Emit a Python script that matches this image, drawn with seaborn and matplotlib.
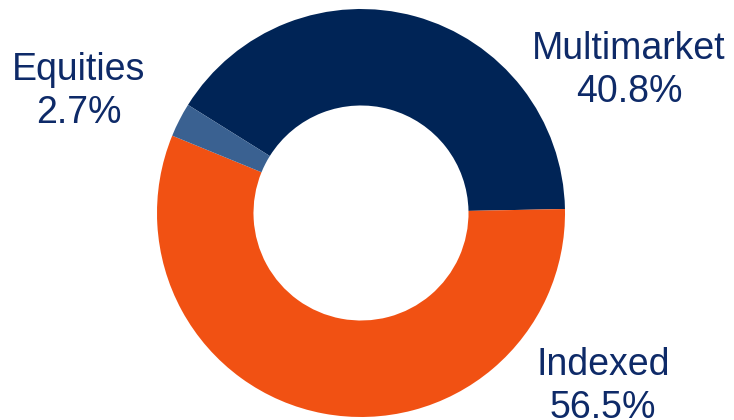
import matplotlib
matplotlib.use("Agg")
import matplotlib.pyplot as plt
import seaborn as sns

# Fund allocation by category (%)
categories = ["Multimarket", "Indexed", "Equities"]
shares = [40.8, 56.5, 2.7]
colors = ["#002456", "#F15113", "#3A6191"]
text_color = "#0E2A68"

sns.set_theme(style="white")
plt.rcParams["font.family"] = ["Liberation Sans", "DejaVu Sans"]

W, H = 734, 420
fig = plt.figure(figsize=(W / 100, H / 100), dpi=100)
fig.patch.set_facecolor("white")

cx, cy, r = 361, 213, 204
ax = fig.add_axes([(cx - r) / W, (H - cy - r) / H, 2 * r / W, 2 * r / H])
ax.pie(
    shares,
    colors=colors,
    startangle=148,
    counterclock=False,
    radius=1.0,
    wedgeprops=dict(width=0.473, edgecolor="none", linewidth=0),
)
ax.set_aspect("equal")
ax.set_xlim(-1, 1)
ax.set_ylim(-1, 1)
ax.axis("off")

# label anchor points (pixel centre x, baseline y of the name line)
anchors = {"Multimarket": (629, 59), "Indexed": (603, 375), "Equities": (79, 80)}
line_gap = 43
for name, val in zip(categories, shares):
    x, y = anchors[name]
    fig.text(x / W, 1 - y / H, name, ha="center", va="baseline",
             fontsize=27, color=text_color)
    fig.text(x / W, 1 - (y + line_gap) / H, f"{val:.1f}%", ha="center",
             va="baseline", fontsize=27, color=text_color)

fig.savefig("out.png", dpi=100, facecolor="white")
